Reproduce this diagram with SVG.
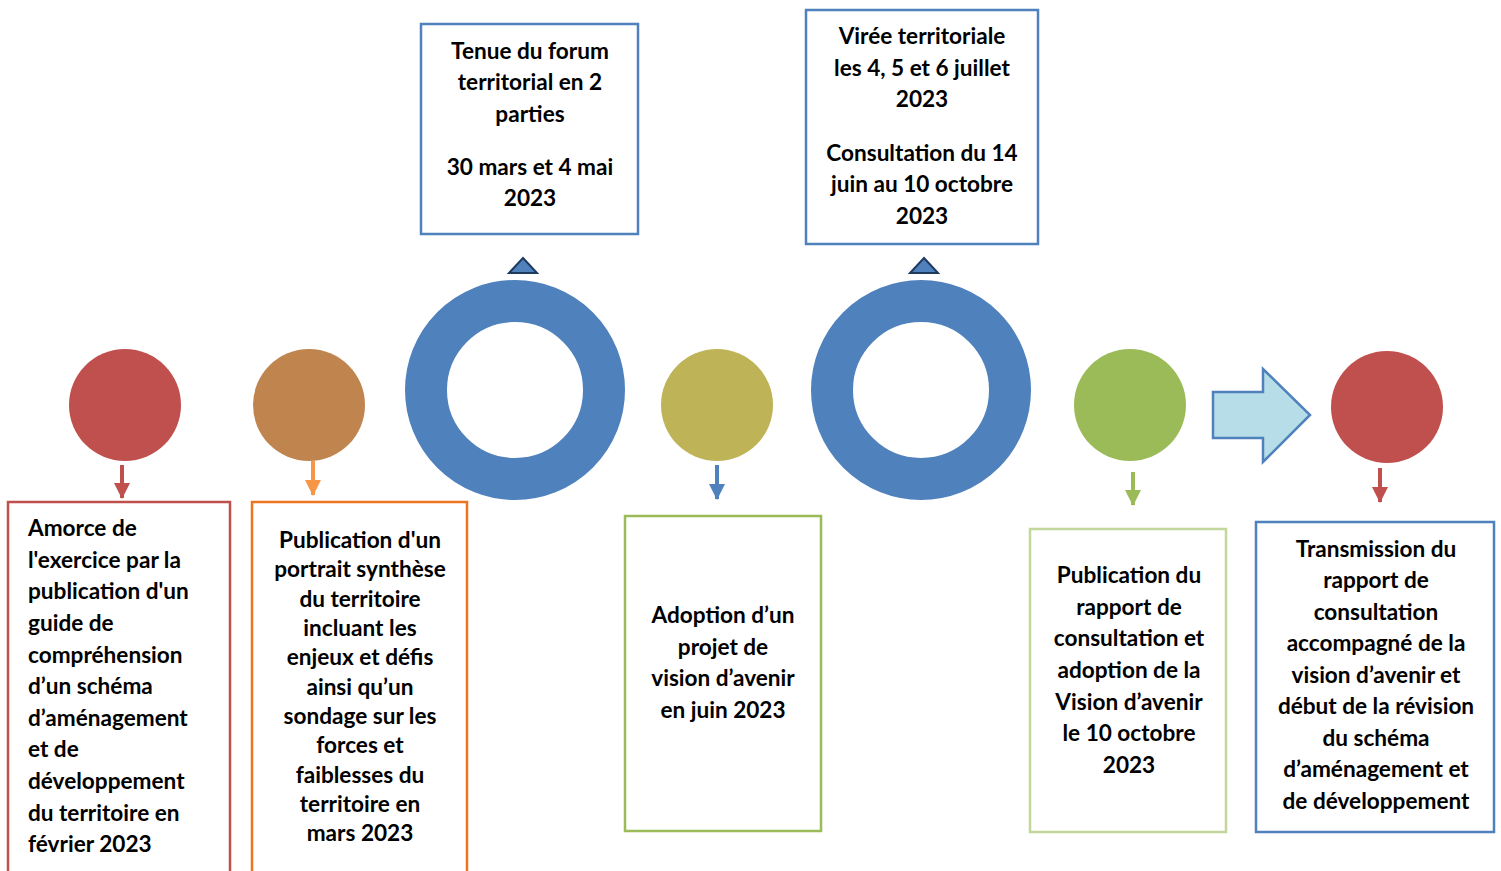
<svg xmlns="http://www.w3.org/2000/svg" width="1501" height="871" viewBox="0 0 1501 871">
<style>
text{font-family:Lato,"Liberation Sans",sans-serif;font-weight:bold;font-size:22.6px;fill:#000}
.c{text-anchor:middle}
.box{fill:#fff;stroke-width:2.5}
.tri{fill:#4f81bd;stroke:#1f3a5f;stroke-width:2}
</style>
<defs>
<marker id="mR" markerWidth="16" markerHeight="16" refX="8" refY="15" orient="0" markerUnits="userSpaceOnUse" viewBox="0 0 16 16"><path d="M0,0 L16,0 L8,16 Z" fill="#c0504d"/></marker>
<marker id="mO" markerWidth="16" markerHeight="16" refX="8" refY="15" orient="0" markerUnits="userSpaceOnUse" viewBox="0 0 16 16"><path d="M0,0 L16,0 L8,16 Z" fill="#f79646"/></marker>
<marker id="mB" markerWidth="16" markerHeight="16" refX="8" refY="15" orient="0" markerUnits="userSpaceOnUse" viewBox="0 0 16 16"><path d="M0,0 L16,0 L8,16 Z" fill="#4f81bd"/></marker>
<marker id="mG" markerWidth="16" markerHeight="16" refX="8" refY="15" orient="0" markerUnits="userSpaceOnUse" viewBox="0 0 16 16"><path d="M0,0 L16,0 L8,16 Z" fill="#9bbb59"/></marker>
</defs>

<g id="connectors" stroke-width="4" fill="none">
<line x1="122" y1="465" x2="122" y2="498" stroke="#c0504d" marker-end="url(#mR)"/>
<line x1="313" y1="461" x2="313" y2="495" stroke="#f79646" marker-end="url(#mO)"/>
<line x1="717" y1="465" x2="717" y2="499" stroke="#4f81bd" marker-end="url(#mB)"/>
<line x1="1133" y1="472" x2="1133" y2="505" stroke="#9bbb59" marker-end="url(#mG)"/>
<line x1="1380" y1="468" x2="1380" y2="502" stroke="#c0504d" marker-end="url(#mR)"/>
<path d="M1213,392 L1263,392 L1263,369 L1310,415 L1263,462 L1263,438 L1213,438 Z" fill="#b7dee8" stroke="#4f81bd" stroke-width="2.5"/>
<path class="tri" d="M523,258 L537,273 L509,273 Z"/>
<path class="tri" d="M924,258 L938,273 L910,273 Z"/>
</g>

<g id="n1">
<circle cx="125" cy="405" r="56" fill="#c0504d"/>
<rect class="box" x="8" y="502" width="222" height="380" stroke="#c0504d"/>
<text x="28" y="536">Amorce de</text>
<text x="28" y="568">l'exercice par la</text>
<text x="28" y="599">publication d'un</text>
<text x="28" y="631">guide de</text>
<text x="28" y="663">compréhension</text>
<text x="28" y="694">d’un schéma</text>
<text x="28" y="726">d’aménagement</text>
<text x="28" y="757">et de</text>
<text x="28" y="789">développement</text>
<text x="28" y="821">du territoire en</text>
<text x="28" y="852">février 2023</text>
</g>

<g id="n2">
<circle cx="309" cy="405" r="56" fill="#c0844f"/>
<rect class="box" x="252" y="502" width="215" height="380" stroke="#ec7522"/>
<text class="c" x="360" y="548">Publication d'un</text>
<text class="c" x="360" y="577">portrait synthèse</text>
<text class="c" x="360" y="607">du territoire</text>
<text class="c" x="360" y="636">incluant les</text>
<text class="c" x="360" y="665">enjeux et défis</text>
<text class="c" x="360" y="695">ainsi qu’un</text>
<text class="c" x="360" y="724">sondage sur les</text>
<text class="c" x="360" y="753">forces et</text>
<text class="c" x="360" y="783">faiblesses du</text>
<text class="c" x="360" y="812">territoire en</text>
<text class="c" x="360" y="841">mars 2023</text>
</g>

<g id="n3">
<circle cx="515" cy="390" r="89" fill="none" stroke="#4f81bd" stroke-width="42"/>
<rect class="box" x="421" y="24" width="217" height="210" stroke="#4f81bd"/>
<text class="c" x="530" y="59">Tenue du forum</text>
<text class="c" x="530" y="90">territorial en 2</text>
<text class="c" x="530" y="122">parties</text>
<text class="c" x="530" y="175">30 mars et 4 mai</text>
<text class="c" x="530" y="206">2023</text>
</g>

<g id="n4">
<circle cx="717" cy="405" r="56" fill="#bfb358"/>
<rect class="box" x="625" y="516" width="196" height="315" stroke="#9bbb59"/>
<text class="c" x="723" y="623">Adoption d’un</text>
<text class="c" x="723" y="655">projet de</text>
<text class="c" x="723" y="686">vision d’avenir</text>
<text class="c" x="723" y="718">en juin 2023</text>
</g>

<g id="n5">
<circle cx="921" cy="390" r="89" fill="none" stroke="#4f81bd" stroke-width="42"/>
<rect class="box" x="806" y="10" width="232" height="234" stroke="#4f81bd"/>
<text class="c" x="922" y="44">Virée territoriale</text>
<text class="c" x="922" y="76">les 4, 5 et 6 juillet</text>
<text class="c" x="922" y="107">2023</text>
<text class="c" x="922" y="161">Consultation du 14</text>
<text class="c" x="922" y="192">juin au 10 octobre</text>
<text class="c" x="922" y="224">2023</text>
</g>

<g id="n6">
<circle cx="1130" cy="405" r="56" fill="#9bbb59"/>
<rect class="box" x="1030" y="529" width="196" height="303" stroke="#c3d69b"/>
<text class="c" x="1129" y="583">Publication du</text>
<text class="c" x="1129" y="615">rapport de</text>
<text class="c" x="1129" y="646">consultation et</text>
<text class="c" x="1129" y="678">adoption de la</text>
<text class="c" x="1129" y="710">Vision d’avenir</text>
<text class="c" x="1129" y="741">le 10 octobre</text>
<text class="c" x="1129" y="773">2023</text>
</g>

<g id="n7">
<circle cx="1387" cy="407" r="56" fill="#c0504d"/>
<rect class="box" x="1256" y="522" width="238" height="310" stroke="#4f81bd"/>
<text class="c" x="1376" y="557">Transmission du</text>
<text class="c" x="1376" y="588">rapport de</text>
<text class="c" x="1376" y="620">consultation</text>
<text class="c" x="1376" y="651">accompagné de la</text>
<text class="c" x="1376" y="683">vision d’avenir et</text>
<text class="c" x="1376" y="714">début de la révision</text>
<text class="c" x="1376" y="746">du schéma</text>
<text class="c" x="1376" y="777">d’aménagement et</text>
<text class="c" x="1376" y="809">de développement</text>
</g>
</svg>
